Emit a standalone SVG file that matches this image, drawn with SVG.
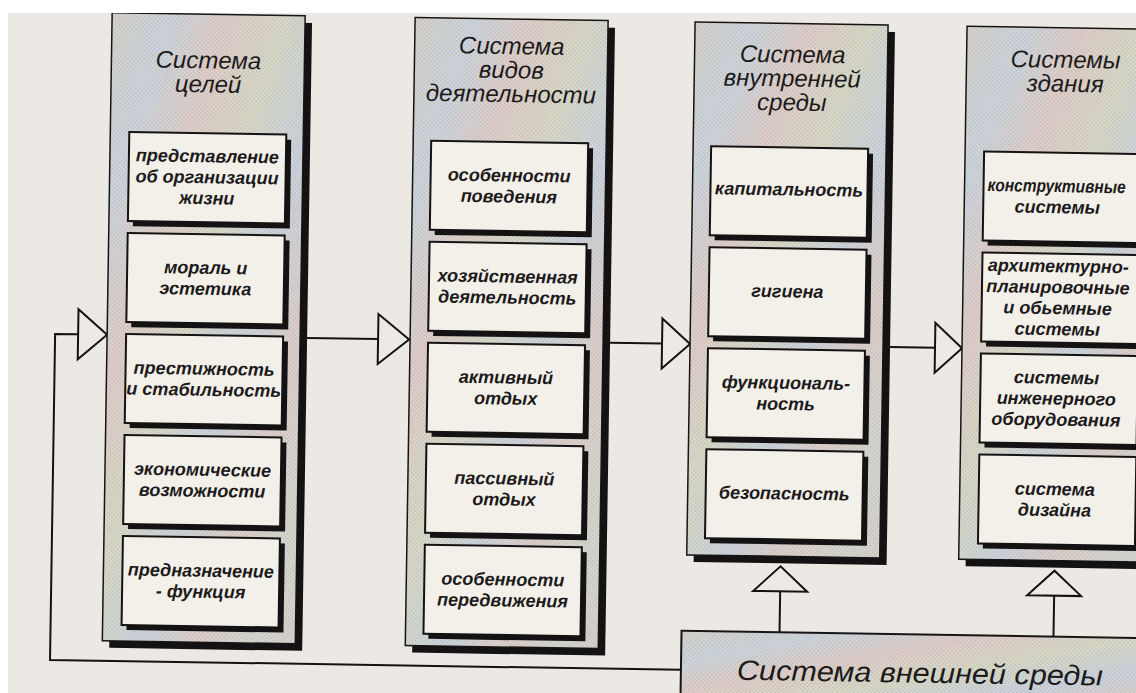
<svg xmlns="http://www.w3.org/2000/svg" width="1136" height="693" viewBox="0 0 1136 693">
<defs>
<linearGradient id="pg" x1="0" y1="0" x2="1" y2="1">
<stop offset="0" stop-color="#d6d2cc"/>
<stop offset="0.15" stop-color="#cdd5dc"/>
<stop offset="0.3" stop-color="#dfcec9"/>
<stop offset="0.45" stop-color="#d8d9c8"/>
<stop offset="0.6" stop-color="#ccd3dc"/>
<stop offset="0.75" stop-color="#ddcfca"/>
<stop offset="0.9" stop-color="#d3d7cf"/>
<stop offset="1" stop-color="#d9d0cc"/>
</linearGradient>
<pattern id="dots" width="3" height="3" patternUnits="userSpaceOnUse" patternTransform="rotate(45)">
<circle cx="1.5" cy="1.5" r="0.8" fill="#6e6e6e" fill-opacity="0.3"/>
</pattern>
<style>
.sh{fill:#141212}
.pan{fill:url(#pg);stroke:#141212;stroke-width:1.5}
.dots{fill:url(#dots)}
.box{fill:#f3f0ea;stroke:#141212;stroke-width:2}
.t{font-family:"Liberation Sans",Arial,sans-serif;font-style:italic;fill:#1c1a1a;text-anchor:middle}
.tt{font-size:24px}
.bt{font-size:18px;font-weight:bold}
.ln{stroke:#141212;stroke-width:2;fill:none}
.ar{fill:#edeae5;stroke:#141212;stroke-width:2;stroke-linejoin:miter}
</style>
</defs>
<rect width="1136" height="693" fill="#ffffff"/>
<rect x="8" y="13" width="1128" height="680" fill="#ece9e4"/>
<g id="diagram" transform="rotate(0.9 568 346)">
<g id="connectors">
<polyline class="ln" points="686,668 55,668 55,342 78,342"/>
<polygon class="ar" points="78,317 78,367 107,342"/>
<line class="ln" x1="307" y1="342" x2="378" y2="342"/>
<polygon class="ar" points="378,317 378,367 409,342"/>
<line class="ln" x1="610" y1="342" x2="662" y2="342"/>
<polygon class="ar" points="662,317 662,367 690,342"/>
<line class="ln" x1="890" y1="342" x2="935" y2="342"/>
<polygon class="ar" points="935,317 935,367 962,342"/>
<line class="ln" x1="784" y1="629" x2="784" y2="588"/>
<polygon class="ar" points="757,588 811,588 784,563"/>
<line class="ln" x1="1058" y1="629" x2="1058" y2="588"/>
<polygon class="ar" points="1031,588 1085,588 1058,563"/>
</g>
<g id="sys-goals">
<rect class="sh" x="114" y="27" width="193" height="628"/>
<rect class="pan" x="107" y="20" width="193" height="628"/>
<rect class="dots" x="107" y="20" width="193" height="628"/>
<text class="t tt" x="204" y="74">Система</text>
<text class="t tt" x="204" y="98">целей</text>
</g>
<g id="goal-1"><rect class="sh" x="131" y="144" width="157" height="89"/><rect class="box" x="126" y="139" width="157" height="89"/>
<text class="t bt" x="204.5" y="168">представление</text><text class="t bt" x="204.5" y="189">об организации</text><text class="t bt" x="204.5" y="210">жизни</text></g>
<g id="goal-2"><rect class="sh" x="131" y="245" width="157" height="89"/><rect class="box" x="126" y="240" width="157" height="89"/>
<text class="t bt" x="204.5" y="279.5">мораль и</text><text class="t bt" x="204.5" y="300.5">эстетика</text></g>
<g id="goal-3"><rect class="sh" x="131" y="346" width="157" height="89"/><rect class="box" x="126" y="341" width="157" height="89"/>
<text class="t bt" x="204.5" y="380.5">престижность</text><text class="t bt" x="204.5" y="401.5">и стабильность</text></g>
<g id="goal-4"><rect class="sh" x="131" y="447" width="157" height="89"/><rect class="box" x="126" y="442" width="157" height="89"/>
<text class="t bt" x="204.5" y="481.5">экономические</text><text class="t bt" x="204.5" y="502.5">возможности</text></g>
<g id="goal-5"><rect class="sh" x="131" y="548" width="157" height="89"/><rect class="box" x="126" y="543" width="157" height="89"/>
<text class="t bt" x="204.5" y="582.5">предназначение</text><text class="t bt" x="204.5" y="603.5">- функция</text></g>

<g id="sys-activities">
<rect class="sh" x="417" y="27" width="193" height="628"/>
<rect class="pan" x="410" y="20" width="193" height="628"/>
<rect class="dots" x="410" y="20" width="193" height="628"/>
<text class="t tt" x="507" y="55">Система</text>
<text class="t tt" x="507" y="79">видов</text>
<text class="t tt" x="507" y="103">деятельности</text>
</g>
<g id="act-1"><rect class="sh" x="433" y="148" width="157" height="89"/><rect class="box" x="428" y="143" width="157" height="89"/>
<text class="t bt" x="506.5" y="182.5">особенности</text><text class="t bt" x="506.5" y="203.5">поведения</text></g>
<g id="act-2"><rect class="sh" x="433" y="249" width="157" height="89"/><rect class="box" x="428" y="244" width="157" height="89"/>
<text class="t bt" x="506.5" y="283.5">хозяйственная</text><text class="t bt" x="506.5" y="304.5">деятельность</text></g>
<g id="act-3"><rect class="sh" x="433" y="350" width="157" height="89"/><rect class="box" x="428" y="345" width="157" height="89"/>
<text class="t bt" x="506.5" y="384.5">активный</text><text class="t bt" x="506.5" y="405.5">отдых</text></g>
<g id="act-4"><rect class="sh" x="433" y="451" width="157" height="89"/><rect class="box" x="428" y="446" width="157" height="89"/>
<text class="t bt" x="506.5" y="485.5">пассивный</text><text class="t bt" x="506.5" y="506.5">отдых</text></g>
<g id="act-5"><rect class="sh" x="433" y="552" width="157" height="89"/><rect class="box" x="428" y="547" width="157" height="89"/>
<text class="t bt" x="506.5" y="586.5">особенности</text><text class="t bt" x="506.5" y="607.5">передвижения</text></g>

<g id="sys-inner-env">
<rect class="sh" x="697" y="27" width="193" height="533"/>
<rect class="pan" x="690" y="20" width="193" height="533"/>
<rect class="dots" x="690" y="20" width="193" height="533"/>
<text class="t tt" x="788" y="59">Система</text>
<text class="t tt" x="788" y="83">внутренней</text>
<text class="t tt" x="788" y="107">среды</text>
</g>
<g id="env-1"><rect class="sh" x="713" y="149" width="157" height="89"/><rect class="box" x="708" y="144" width="157" height="89"/>
<text class="t bt" x="786.5" y="192">капитальность</text></g>
<g id="env-2"><rect class="sh" x="713" y="250" width="157" height="89"/><rect class="box" x="708" y="245" width="157" height="89"/>
<text class="t bt" x="786.5" y="294">гигиена</text></g>
<g id="env-3"><rect class="sh" x="713" y="351" width="157" height="89"/><rect class="box" x="708" y="346" width="157" height="89"/>
<text class="t bt" x="786.5" y="385.5">функциональ-</text><text class="t bt" x="786.5" y="406.5">ность</text></g>
<g id="env-4"><rect class="sh" x="713" y="452" width="157" height="89"/><rect class="box" x="708" y="447" width="157" height="89"/>
<text class="t bt" x="786.5" y="496">безопасность</text></g>

<g id="sys-building">
<rect class="sh" x="969" y="27" width="193" height="533"/>
<rect class="pan" x="962" y="20" width="193" height="533"/>
<rect class="dots" x="962" y="20" width="193" height="533"/>
<text class="t tt" x="1061" y="60">Системы</text>
<text class="t tt" x="1061" y="84">здания</text>
</g>
<g id="bld-1"><rect class="sh" x="986" y="150" width="157" height="89"/><rect class="box" x="981" y="145" width="157" height="89"/>
<text class="t bt" x="1054" y="184.5" textLength="138" lengthAdjust="spacingAndGlyphs">конструктивные</text><text class="t bt" x="1055" y="205.5">системы</text></g>
<g id="bld-2"><rect class="sh" x="986" y="251" width="157" height="89"/><rect class="box" x="981" y="246" width="157" height="89"/>
<text class="t bt" x="1057" y="264.5">архитектурно-</text><text class="t bt" x="1057" y="285.5">планировочные</text><text class="t bt" x="1057" y="306.5">и обьемные</text><text class="t bt" x="1057" y="327.5">системы</text></g>
<g id="bld-3"><rect class="sh" x="986" y="352" width="157" height="89"/><rect class="box" x="981" y="347" width="157" height="89"/>
<text class="t bt" x="1057" y="376">системы</text><text class="t bt" x="1057" y="397">инженерного</text><text class="t bt" x="1057" y="418">оборудования</text></g>
<g id="bld-4"><rect class="sh" x="986" y="453" width="157" height="89"/><rect class="box" x="981" y="448" width="157" height="89"/>
<text class="t bt" x="1057" y="487.5">система</text><text class="t bt" x="1057" y="508.5">дизайна</text></g>

<g id="sys-outer-env">
<rect class="pan" x="686" y="629" width="520" height="100" style="stroke-width:2"/>
<rect class="dots" x="686" y="629" width="520" height="100"/>
<text class="t" x="925" y="677" font-size="28" textLength="366" lengthAdjust="spacingAndGlyphs">Система внешней среды</text>
</g>
</g>
<rect x="0" y="0" width="1136" height="13" fill="#ffffff"/>
<rect x="0" y="0" width="8" height="693" fill="#ffffff"/>
</svg>
